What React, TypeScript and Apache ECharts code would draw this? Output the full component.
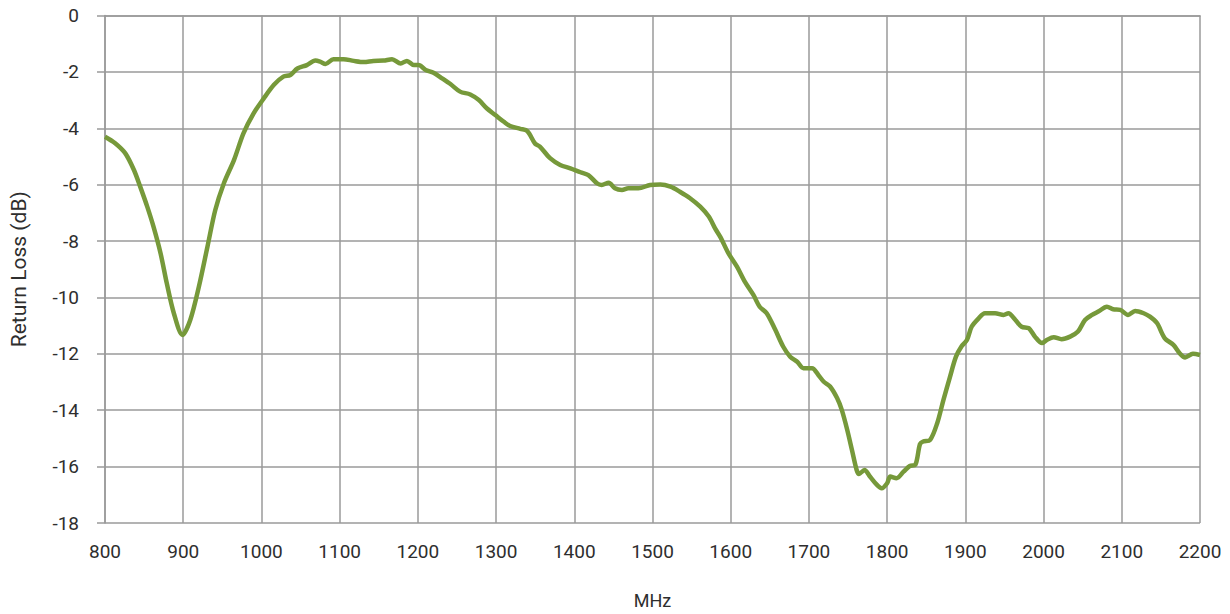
import React, { useEffect, useRef } from "react";
import * as echarts from "echarts";

const freqMHz: number[] = [800, 813, 826, 837, 845, 854, 862, 871, 879, 888, 899, 909, 920, 931, 941, 952, 965, 977, 990, 1003, 1016, 1028, 1037, 1046, 1058, 1069, 1075, 1082, 1092, 1105, 1118, 1131, 1143, 1156, 1167, 1178, 1186, 1195, 1201, 1210, 1220, 1231, 1242, 1254, 1267, 1278, 1288, 1299, 1310, 1318, 1331, 1340, 1350, 1356, 1369, 1382, 1395, 1408, 1418, 1429, 1435, 1444, 1452, 1461, 1469, 1482, 1497, 1510, 1523, 1535, 1548, 1561, 1572, 1580, 1587, 1597, 1608, 1618, 1629, 1637, 1646, 1657, 1667, 1676, 1685, 1693, 1704, 1712, 1719, 1727, 1736, 1742, 1749, 1755, 1761, 1764, 1771, 1778, 1787, 1793, 1800, 1804, 1812, 1821, 1829, 1836, 1842, 1846, 1855, 1864, 1872, 1880, 1888, 1895, 1902, 1908, 1917, 1925, 1938, 1949, 1955, 1964, 1972, 1981, 1989, 1998, 2004, 2013, 2023, 2034, 2044, 2053, 2062, 2070, 2081, 2089, 2098, 2108, 2117, 2128, 2136, 2145, 2155, 2166, 2174, 2181, 2191, 2200];

const returnLossDb: number[] = [-4.30, -4.53, -4.89, -5.48, -6.07, -6.78, -7.49, -8.43, -9.50, -10.56, -11.33, -10.80, -9.62, -8.20, -6.90, -5.95, -5.12, -4.18, -3.47, -2.94, -2.46, -2.17, -2.11, -1.88, -1.76, -1.60, -1.64, -1.72, -1.55, -1.55, -1.61, -1.65, -1.61, -1.60, -1.55, -1.70, -1.61, -1.76, -1.76, -1.93, -2.03, -2.23, -2.44, -2.70, -2.80, -3.00, -3.29, -3.53, -3.77, -3.92, -4.02, -4.10, -4.55, -4.65, -5.06, -5.30, -5.42, -5.56, -5.66, -5.95, -6.01, -5.93, -6.13, -6.19, -6.13, -6.13, -6.01, -5.99, -6.07, -6.25, -6.48, -6.78, -7.13, -7.55, -7.87, -8.43, -8.91, -9.44, -9.91, -10.33, -10.56, -11.15, -11.74, -12.10, -12.28, -12.51, -12.51, -12.75, -12.99, -13.16, -13.57, -13.99, -14.70, -15.41, -16.12, -16.26, -16.12, -16.35, -16.65, -16.77, -16.59, -16.35, -16.41, -16.18, -15.98, -15.94, -15.20, -15.11, -15.05, -14.46, -13.63, -12.85, -12.10, -11.74, -11.51, -11.04, -10.74, -10.56, -10.56, -10.62, -10.56, -10.80, -11.04, -11.09, -11.39, -11.62, -11.51, -11.41, -11.48, -11.39, -11.21, -10.80, -10.62, -10.50, -10.33, -10.42, -10.44, -10.62, -10.48, -10.56, -10.68, -10.91, -11.45, -11.68, -11.98, -12.13, -12.00, -12.04];

const xTitle = "MHz";
const yTitle = "Return Loss (dB)";

export default function App() {
  const ref = useRef<HTMLDivElement>(null);
  useEffect(() => {
    if (!ref.current) return;
    const chart = echarts.init(ref.current, null, { renderer: "svg" });
    const font = "Roboto";
    const gridColor = "#9a9a9a";
    const textColor = "#2e2e2e";
    chart.setOption({
      animation: false,
      backgroundColor: "#ffffff",
      grid: { left: 104.5, right: 30, top: 15.5, bottom: 91, containLabel: false },
      xAxis: {
        type: "value",
        min: 800,
        max: 2200,
        interval: 100,
        name: xTitle,
        nameLocation: "middle",
        nameGap: 68,
        nameTextStyle: { fontFamily: font, fontSize: 18, color: textColor },
        axisLine: { show: true, lineStyle: { color: gridColor, width: 1.5 } },
        axisTick: { show: false },
        axisLabel: {
          fontFamily: font,
          fontSize: 19,
          color: textColor,
          margin: 19,
          formatter: (v: number) => String(v),
        },
        splitLine: { show: true, lineStyle: { color: gridColor, width: 1.5 } },
      },
      yAxis: {
        type: "value",
        min: -18,
        max: 0,
        interval: 2,
        name: yTitle,
        nameLocation: "middle",
        nameGap: 76,
        nameTextStyle: { fontFamily: font, fontSize: 21, color: textColor },
        axisLine: { show: true, lineStyle: { color: gridColor, width: 1.5 } },
        axisTick: { show: true, length: 8, lineStyle: { color: gridColor, width: 1.5 } },
        axisLabel: {
          fontFamily: font,
          fontSize: 19,
          color: textColor,
          margin: 26,
          formatter: (v: number) => String(v),
        },
        splitLine: { show: true, lineStyle: { color: gridColor, width: 1.5 } },
      },
      series: [
        {
          type: "line",
          data: freqMHz.map((f, i) => [f, returnLossDb[i]]),
          showSymbol: false,
          smooth: 0.3,
          lineStyle: { color: "#76993a", width: 4.5 },
        },
      ],
    });
    return () => chart.dispose();
  }, []);
  return (
    <div
      ref={ref}
      style={{ position: "absolute", left: 0, top: 0, width: 1230, height: 614 }}
    />
  );
}
